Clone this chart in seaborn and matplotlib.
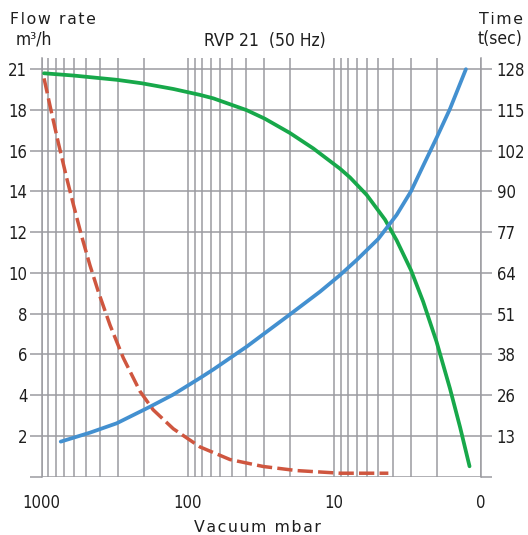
import numpy as np
import pandas as pd
import matplotlib
matplotlib.use("Agg")
import matplotlib.pyplot as plt
import seaborn as sns

# Pressure (mbar) and curve heights in grid units (one grid step = 2 units)
flow_p = [964, 608, 307, 207, 126, 82.8, 67.1, 39.7, 29.8, 20.1, 13.9, 9.14,
          7.81, 6.0, 4.5, 3.75, 2.99, 2.47, 2.0, 1.62, 1.38, 1.19]
flow_y = [19.79, 19.68, 19.47, 19.30, 19.02, 18.73, 18.56, 17.98, 17.56, 16.86,
          16.10, 15.11, 14.68, 13.82, 12.61, 11.60, 10.13, 8.59, 6.62, 4.33,
          2.42, 0.51]

time_p = [741, 468, 307, 182, 126, 82.8, 67.1, 39.7, 20.1, 12.5, 9.14, 7.03,
          5.01, 3.75, 2.99, 2.47, 2.0, 1.62, 1.26]
time_y = [1.72, 2.16, 2.62, 3.43, 4.03, 4.84, 5.26, 6.38, 7.96, 9.08, 9.89,
          10.63, 11.66, 12.84, 14.0, 15.25, 16.62, 18.04, 19.99]

pump_p = [964, 854, 770, 675, 608, 533, 468, 410, 341, 277, 213, 173, 126,
          82.8, 51.6, 30.6, 18.1, 9.14, 4.27]
pump_y = [19.54, 17.81, 16.38, 14.65, 13.36, 11.79, 10.37, 9.07, 7.43, 5.83,
          4.19, 3.28, 2.35, 1.46, 0.84, 0.50, 0.30, 0.17, 0.17]

y_ticks = [0, 2, 4, 6, 8, 10, 12, 14, 16, 18, 20]
flow_labels = ["", "2", "4", "6", "8", "10", "12", "14", "16", "18", "21"]
time_labels = ["", "13", "26", "38", "51", "64", "77", "90", "102", "115", "128"]
x_ticks = [1000, 100, 10, 1]
x_labels = ["1000", "100", "10", "0"]

sns.set_style("white")
plt.rcParams['font.family'] = ['DejaVu Sans']
plt.rcParams['font.stretch'] = 'condensed'

grid_col = "#9b9ba0"
ink = "#1e1e1e"
fig = plt.figure(figsize=(5.28, 5.35), dpi=100)
ax = fig.add_axes([0.079, 0.109, 0.8312, 0.7826])

sns.lineplot(x=flow_p, y=flow_y, ax=ax, color="#17a84a", lw=2.7, sort=False)
sns.lineplot(x=time_p, y=time_y, ax=ax, color="#4390d0", lw=2.7, sort=False)
sns.lineplot(x=pump_p, y=pump_y, ax=ax, color="#cf563f", lw=2.5, sort=False)
ax.lines[-1].set_dashes((4.4, 1.5))
for ln in ax.lines:
    ln.set_solid_capstyle("round")
    ln.set_solid_joinstyle("round")
    ln.set_dash_capstyle("butt")
    ln.set_zorder(5)

ax.set_xscale("log")
ax.set_xlim(1000, 1)
ax.set_ylim(0, 20.54)
ax.set_xticks(x_ticks)
ax.set_xticklabels(x_labels)
ax.set_yticks(y_ticks)
ax.set_yticklabels(flow_labels)
ax.xaxis.set_minor_formatter(matplotlib.ticker.NullFormatter())

ax.grid(True, which="both", axis="x", color=grid_col, lw=1.1)
ax.grid(True, which="major", axis="y", color=grid_col, lw=1.1)
ax.tick_params(axis="x", which="major", length=7.3, width=1.1, color=grid_col,
               pad=5.5, labelsize=12, labelcolor=ink)
ax.tick_params(axis="x", which="minor", length=0)
ax.tick_params(axis="y", length=8.4, width=1.1, color=grid_col, pad=2,
               labelsize=12, labelcolor=ink, left=True)
ax.spines["top"].set_visible(False)
ax.spines["bottom"].set_visible(False)
for s in ["left", "right"]:
    ax.spines[s].set_color(grid_col)
    ax.spines[s].set_linewidth(1.1)

ax2 = ax.twinx()
ax2.set_ylim(ax.get_ylim())
ax2.set_yticks(y_ticks)
ax2.set_yticklabels(time_labels)
ax2.tick_params(axis="y", length=8.0, width=1.1, color=grid_col, pad=3.5,
                labelsize=12, labelcolor=ink)
for s in ax2.spines.values():
    s.set_visible(False)

hs = "\u200a"
head = dict(family=["DejaVu Sans"], stretch="normal", fontsize=11.3, color=ink)
fig.text(10 / 528, 1 - 24 / 535, hs.join("Flow rate"), ha="left", va="baseline", **head)
fig.text(523 / 528, 1 - 24 / 535, hs.join("Time"), ha="right", va="baseline", **head)
fig.text(257 / 528, 1 - 531.5 / 535, hs.join("Vacuum mbar"), ha="center",
         va="baseline", **head)

sub = dict(fontsize=12.5, color=ink)
fig.text(16 / 528, 1 - 45 / 535, "m³/h", ha="left", va="baseline", **sub)
fig.text(265 / 528, 1 - 46.5 / 535, "RVP 21  (50 Hz)", ha="center", va="baseline", **sub)
fig.text(522 / 528, 1 - 44 / 535, "t(sec)", ha="right", va="baseline", **sub)

fig.savefig("out.png", dpi=100)
